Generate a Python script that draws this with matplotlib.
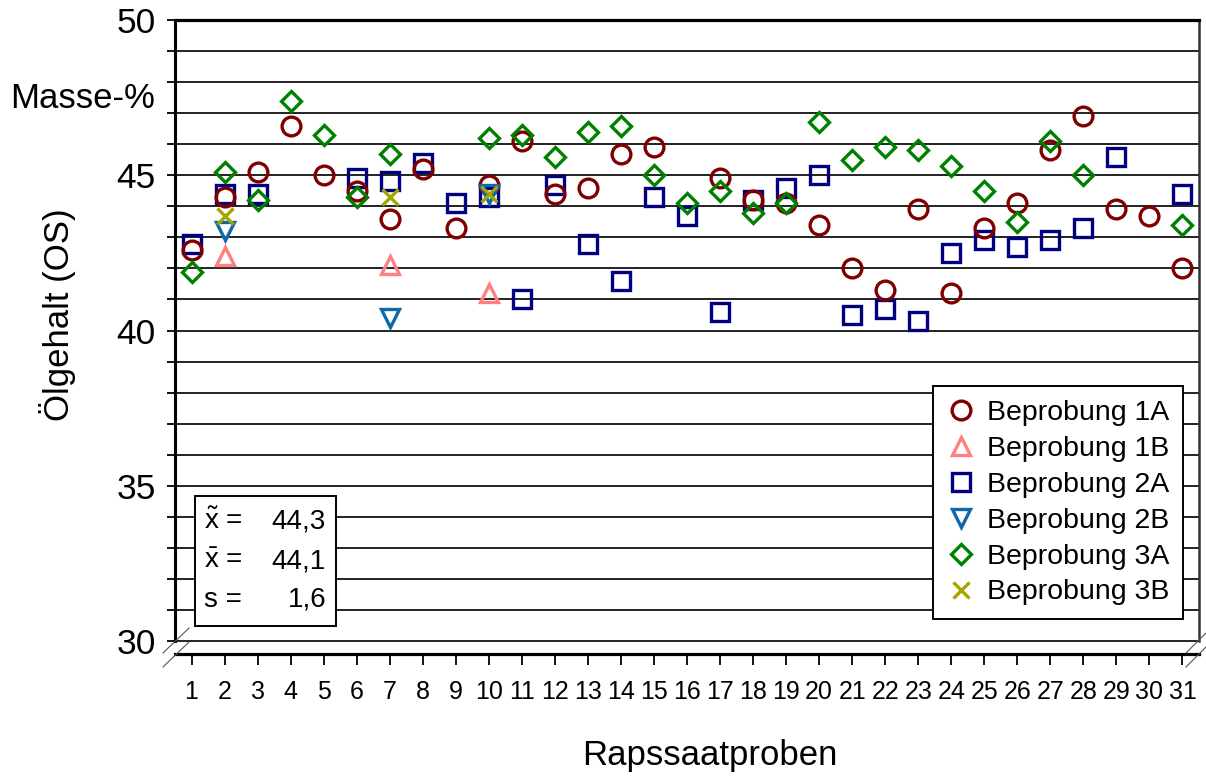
import numpy as np
import matplotlib
matplotlib.use('Agg')
import matplotlib.pyplot as plt
from matplotlib.lines import Line2D
from matplotlib.patches import Rectangle

# Daten: Ölgehalt je Rapssaatprobe (Masse-%), nan = kein Messwert
nan = np.nan
proben = list(range(1, 32))

beprobung_1a = [42.6, 44.3, 45.1, 46.6, 45.0, 44.5, 43.6, 45.2, 43.3, 44.7,
                46.1, 44.4, 44.6, 45.7, 45.9, nan, 44.9, 44.2, 44.1, 43.4,
                42.0, 41.3, 43.9, 41.2, 43.3, 44.1, 45.8, 46.9, 43.9, 43.7, 42.0]
beprobung_1b = [nan, 42.4, nan, nan, nan, nan, 42.1, nan, nan, 41.2] + [nan] * 21
beprobung_2a = [42.8, 44.4, 44.4, nan, nan, 44.9, 44.8, 45.4, 44.1, 44.3,
                41.0, 44.7, 42.8, 41.6, 44.3, 43.7, 40.6, 44.2, 44.6, 45.0,
                40.5, 40.7, 40.3, 42.5, 42.9, 42.7, 42.9, 43.3, 45.6, nan, 44.4]
beprobung_2b = [nan, 43.2, nan, nan, nan, nan, 40.4, nan, nan, 44.4] + [nan] * 21
beprobung_3a = [41.9, 45.1, 44.2, 47.4, 46.3, 44.3, 45.7, nan, nan, 46.2,
                46.3, 45.6, 46.4, 46.6, 45.0, 44.1, 44.5, 43.8, 44.1, 46.7,
                45.5, 45.9, 45.8, 45.3, 44.5, 43.5, 46.1, 45.0, nan, nan, 43.4]
beprobung_3b = [nan, 43.7, nan, nan, nan, nan, 44.3, nan, nan, 44.4] + [nan] * 21

statistik = [('$\\tilde{\\mathrm{x}}$ =', '44,3'),
             ('$\\bar{\\mathrm{x}}$ =', '44,1'),
             ('s =', '1,6')]

plt.rcParams['font.family'] = 'Liberation Sans'
plt.rcParams['mathtext.fontset'] = 'custom'
plt.rcParams['mathtext.rm'] = 'Liberation Sans'
plt.rcParams['mathtext.it'] = 'Liberation Sans:italic'

W, H = 1206, 778
fig = plt.figure(figsize=(W / 100, H / 100), dpi=100)


def px(x, y):
    # Pixel (von oben links) -> Figurkoordinaten
    return (x / W, 1 - y / H)


ax = fig.add_axes([175 / W, 1 - 641 / H, 1024 / W, 621 / H])
ax.set_xlim(0.5, 31.5)
ax.set_ylim(30, 50)

# Gitterlinien
for v in range(30, 50):
    ax.axhline(v, color='#111111', lw=1.3, zorder=1, clip_on=False)

# Achsen / Rahmen
ax.spines['top'].set_linewidth(2.3)
ax.spines['left'].set_linewidth(2.2)
ax.spines['right'].set_linewidth(1.8)
ax.spines['right'].set_color('#333333')
ax.spines['bottom'].set_position(('axes', -13 / 621))
ax.spines['bottom'].set_linewidth(2.3)

ax.set_yticks([30, 35, 40, 45, 50])
ax.set_yticks(range(30, 51), minor=True)
ax.tick_params(axis='y', which='both', direction='out', length=6, width=1.3,
               labelsize=25.5, pad=8)
ax.set_xticks(proben)
ax.set_xticklabels([str(p) for p in proben])
ax.tick_params(axis='x', direction='out', length=8, width=1.3, labelsize=18, pad=11)

# Messreihen
serien = [
    ('Beprobung 2A', beprobung_2a, 's', '#000080', 13, 3),
    ('Beprobung 1A', beprobung_1a, 'o', '#800000', 13.5, 4),
    ('Beprobung 1B', beprobung_1b, '^', '#FF8080', 13.5, 5),
    ('Beprobung 2B', beprobung_2b, 'v', '#1068AA', 13.5, 6),
    ('Beprobung 3A', beprobung_3a, 'D', '#008000', 10.5, 7),
    ('Beprobung 3B', beprobung_3b, 'x', '#A5A500', 11.5, 8),
]
handles = {}
for name, werte, marker, farbe, groesse, z in serien:
    h, = ax.plot(proben, np.array(werte, dtype=float), linestyle='none',
                 marker=marker, ms=groesse, mfc='none', mec=farbe, mew=2.4,
                 zorder=z, clip_on=False, label=name)
    handles[name] = h

reihenfolge = ['Beprobung 1A', 'Beprobung 1B', 'Beprobung 2A',
               'Beprobung 2B', 'Beprobung 3A', 'Beprobung 3B']
leg = ax.legend([handles[n] for n in reihenfolge], reihenfolge,
                loc='upper right', bbox_to_anchor=px(1183, 386),
                bbox_transform=fig.transFigure, borderaxespad=0,
                fontsize=20.5, numpoints=1, handlelength=1.0, handletextpad=0.4,
                labelspacing=0.35, borderpad=0.48, fancybox=False,
                edgecolor='black', framealpha=1)
leg.get_frame().set_linewidth(1.4)
leg.set_zorder(20)

# Statistik-Kasten
fig.add_artist(Rectangle(px(195, 626), 141 / W, 130 / H, transform=fig.transFigure,
                         facecolor='white', edgecolor='black', lw=1.4, zorder=5))
for i, (name, wert) in enumerate(statistik):
    y = 522 + i * 39
    fig.text(*px(204, y), name, fontsize=20, ha='left', va='center', zorder=6)
    fig.text(*px(326, y), wert, fontsize=20, ha='right', va='center', zorder=6)

# Schräge Linien am Boden (3D-Effekt)
for (x1, y1, x2, y2) in [(189, 628, 163, 653), (189, 642, 163, 667),
                         (1206, 633, 1186, 653), (1206, 647, 1186, 667)]:
    p1, p2 = px(x1, y1), px(x2, y2)
    fig.add_artist(Line2D([p1[0], p2[0]], [p1[1], p2[1]],
                          color='#555555', lw=0.8, transform=fig.transFigure))

# Beschriftungen
fig.text(*px(155, 99), 'Masse-%', fontsize=25, ha='right', va='center')
fig.text(*px(58, 315), 'Ölgehalt (OS)', fontsize=25, rotation=90,
         ha='center', va='center')
fig.text(*px(710, 755), 'Rapssaatproben', fontsize=25, ha='center', va='center')

fig.savefig('out.png', dpi=100)
